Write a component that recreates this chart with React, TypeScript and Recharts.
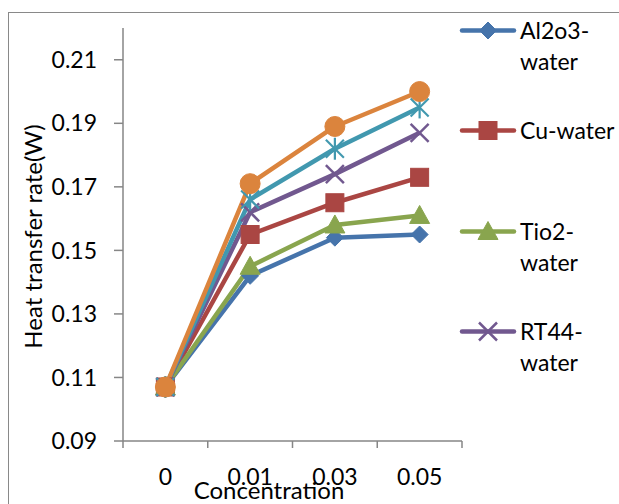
import React from 'react';
import { LineChart, Line, XAxis, YAxis, Legend } from 'recharts';

const categories = ['0', '0.01', '0.03', '0.05'];
const al2o3Water = [0.107, 0.142, 0.154, 0.155];
const cuWater = [0.107, 0.155, 0.165, 0.173];
const tio2Water = [0.107, 0.145, 0.158, 0.161];
const rt44Water = [0.107, 0.162, 0.174, 0.187];
const series5 = [0.107, 0.166, 0.182, 0.195];
const series6 = [0.107, 0.171, 0.189, 0.2];
const yTicks = [0.09, 0.11, 0.13, 0.15, 0.17, 0.19, 0.21];

const seriesNames = ['Al2o3-water', 'Cu-water', 'Tio2-water', 'RT44-water', 'Series5', 'Series6'];
const seriesValues = [al2o3Water, cuWater, tio2Water, rt44Water, series5, series6];
const seriesColors = ['#4674AB', '#AA4643', '#89A54E', '#71588F', '#4198AF', '#DB843D'];
const seriesShapes = ['diamond', 'square', 'triangle', 'x', 'star', 'circle'];
const legendCount = 4;

const FONT = 'Lato, "Open Sans", sans-serif';
const AXIS = '#868686';

const data = categories.map((c, i) => {
  const row: any = { idx: i, cat: c };
  seriesValues.forEach((vals, s) => {
    row['s' + s] = vals[i];
  });
  return row;
});

const boundaries = categories.map((_, i) => i - 0.5).concat([categories.length - 0.5]);

function Marker({ shape, cx, cy, color }: { shape: string; cx: number; cy: number; color: string }) {
  if (cx == null || cy == null) return null;
  switch (shape) {
    case 'diamond': {
      const r = 8.5;
      return <polygon points={`${cx},${cy - r} ${cx + r},${cy} ${cx},${cy + r} ${cx - r},${cy}`} fill={color} stroke={color} strokeWidth={1} />;
    }
    case 'square':
      return <rect x={cx - 9} y={cy - 9} width={18} height={18} fill={color} stroke={color} strokeWidth={1} />;
    case 'triangle':
      return <polygon points={`${cx},${cy - 10} ${cx + 10},${cy + 8} ${cx - 10},${cy + 8}`} fill={color} stroke={color} strokeWidth={1} />;
    case 'x':
      return (
        <g stroke={color} strokeWidth={2.5}>
          <line x1={cx - 9} y1={cy - 9} x2={cx + 9} y2={cy + 9} />
          <line x1={cx - 9} y1={cy + 9} x2={cx + 9} y2={cy - 9} />
        </g>
      );
    case 'star':
      return (
        <g stroke={color} strokeWidth={2.2}>
          <line x1={cx - 9} y1={cy - 9} x2={cx + 9} y2={cy + 9} />
          <line x1={cx - 9} y1={cy + 9} x2={cx + 9} y2={cy - 9} />
          <line x1={cx} y1={cy - 11} x2={cx} y2={cy + 11} />
        </g>
      );
    case 'circle':
    default:
      return <circle cx={cx} cy={cy} r={10} fill={color} stroke={color} strokeWidth={1} />;
  }
}

const XTick = (props: any) => {
  const { x, y, payload, width } = props;
  const i = Math.round(payload.value + 0.5);
  if (i < 0 || i >= categories.length) return <g />;
  const band = (typeof width === 'number' && width > 0 ? width : 339) / categories.length;
  return (
    <text x={x + band / 2} y={y} dy={37} textAnchor="middle" fill="#000" fontSize={23} fontFamily={FONT}>
      {categories[i]}
    </text>
  );
};

const YLabel = (props: any) => {
  const vb = props.viewBox || { y: 20, height: 413 };
  const cy = vb.y + vb.height / 2 + 2;
  const x = 34;
  return (
    <text x={x} y={cy} transform={`rotate(-90, ${x}, ${cy})`} textAnchor="middle" fill="#000" fontSize={24} fontFamily={FONT}>
      Heat transfer rate(W)
    </text>
  );
};

const XLabel = () => (
  <text x={261} y={491} textAnchor="middle" fill="#000" fontSize={24} fontFamily={FONT}>
    Concentration
  </text>
);

const LegendContent = () => (
  <div style={{ position: 'relative', width: 611, height: 496, fontFamily: FONT }}>
    {seriesNames.slice(0, legendCount).map((name, i) => {
      const center = 22 + i * 100.5;
      return (
        <div key={name} style={{ position: 'absolute', left: 452, top: center - 15.5, display: 'flex', alignItems: 'flex-start' }}>
          <svg width={56} height={31} style={{ overflow: 'visible', flex: 'none' }}>
            <line x1={2} y1={15.5} x2={54} y2={15.5} stroke={seriesColors[i]} strokeWidth={4.5} strokeLinecap="round" />
            <Marker shape={seriesShapes[i]} cx={28} cy={15.5} color={seriesColors[i]} />
          </svg>
          <div style={{ marginLeft: 4, width: 102, fontSize: 23, lineHeight: '31px', color: '#000', whiteSpace: 'normal' }}>{name}</div>
        </div>
      );
    })}
  </div>
);

export default function App() {
  return (
    <div style={{ position: 'fixed', left: 0, top: 0, width: 619, height: 504, overflow: 'hidden', background: '#fff' }}>
      <div style={{ position: 'absolute', left: 8, top: 12, width: 700, height: 600, border: '1px solid #898989', boxSizing: 'border-box' }} />
      <div style={{ position: 'absolute', left: 8, top: 8, width: 611, height: 496 }}>
        <LineChart width={611} height={496} data={data} margin={{ top: 20, right: 157, bottom: 0, left: 0 }}>
          <XAxis
            dataKey="idx"
            type="number"
            domain={[-0.5, categories.length - 0.5]}
            ticks={boundaries}
            interval={0}
            allowDecimals
            tick={<XTick />}
            tickSize={7}
            tickMargin={0}
            height={63}
            axisLine={{ stroke: AXIS, strokeWidth: 1.5 }}
            tickLine={{ stroke: AXIS, strokeWidth: 1.5 }}
            label={<XLabel />}
          />
          <YAxis
            type="number"
            domain={[0.09, 0.22]}
            ticks={yTicks}
            interval={0}
            tickFormatter={(v: number) => v.toFixed(2)}
            tick={{ fill: '#000', fontSize: 23, fontFamily: FONT }}
            tickSize={9}
            tickMargin={17}
            width={115}
            axisLine={{ stroke: AXIS, strokeWidth: 1.5 }}
            tickLine={{ stroke: AXIS, strokeWidth: 1.5 }}
            label={<YLabel />}
          />
          <Legend
            layout="vertical"
            align="center"
            verticalAlign="middle"
            wrapperStyle={{ left: 0, top: 0, width: 611, height: 496 }}
            content={<LegendContent />}
          />
          {seriesNames.map((name, s) => (
            <Line
              key={name}
              name={name}
              dataKey={'s' + s}
              stroke={seriesColors[s]}
              strokeWidth={4.5}
              strokeLinejoin="round"
              isAnimationActive={false}
              activeDot={false}
              dot={(p: any) => <Marker key={`${name}-${p.index}`} shape={seriesShapes[s]} cx={p.cx} cy={p.cy} color={seriesColors[s]} />}
            />
          ))}
        </LineChart>
      </div>
    </div>
  );
}
